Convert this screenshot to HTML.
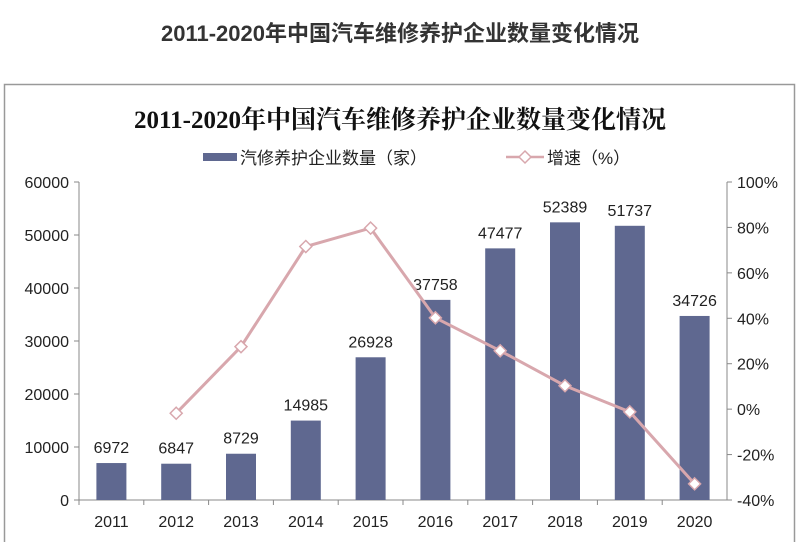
<!DOCTYPE html>
<html><head><meta charset="utf-8"><style>
body{margin:0;background:#fff;width:800px;height:542px;overflow:hidden;font-family:"Liberation Sans","Noto Sans CJK SC",sans-serif}
</style></head><body>
<svg width="800" height="542">
<text x="400" y="41" text-anchor="middle" font-size="22" font-weight="bold" fill="#333" font-family="Liberation Sans,Noto Sans CJK SC,sans-serif">2011-2020年中国汽车维修养护企业数量变化情况</text>
<rect x="4.5" y="84.5" width="790" height="470" fill="none" stroke="#999" stroke-width="1.5"/>
<text x="400" y="128" text-anchor="middle" font-size="25" font-weight="bold" fill="#111" font-family="Liberation Serif,Noto Serif CJK SC,serif">2011-2020年中国汽车维修养护企业数量变化情况</text>
<g>
<rect x="203" y="153" width="34" height="8" fill="#5f6890"/>
<text x="240" y="164" font-size="17" fill="#222">汽修养护企业数量（家）</text>
<line x1="506" y1="157" x2="544" y2="157" stroke="#d8a7ad" stroke-width="2.5"/>
<path d="M525 151 L531 157 L525 163 L519 157Z" fill="#fff" stroke="#d8a7ad" stroke-width="1.5"/>
<text x="547" y="164" font-size="17" fill="#222">增速（%）</text>
</g>
<g id="axes"></g><g id="bars"></g><g id="line"></g>
</svg>
<script>
const years=["2011","2012","2013","2014","2015","2016","2017","2018","2019","2020"];
const counts=[6972,6847,8729,14985,26928,37758,47477,52389,51737,34726];
const growth=[null,-1.8,27.5,71.6,79.7,40.2,25.7,10.3,-1.2,-32.9];
const leftTicks=[0,10000,20000,30000,40000,50000,60000];
const rightTicks=[-40,-20,0,20,40,60,80,100];
const X0=79,X1=727,Y0=500,Y1=182;
const NS="http://www.w3.org/2000/svg";
const bw=(X1-X0)/years.length;
const xc=i=>X0+bw*(i+0.5);
const yL=v=>Y0-(v/60000)*(Y0-Y1);
const yR=v=>Y0-((v+40)/140)*(Y0-Y1);
function mk(t,a,p){const e=document.createElementNS(NS,t);for(const k in a)e.setAttribute(k,a[k]);p.appendChild(e);return e;}
const ax=document.getElementById('axes'),bg=document.getElementById('bars'),lg=document.getElementById('line');
let e=mk('line',{x1:X0,y1:Y1,x2:X0,y2:Y0,stroke:'#888'},ax);


e=mk('line',{x1:X1,y1:Y1,x2:X1,y2:Y0,stroke:'#888'},ax);


e=mk('line',{x1:X0,y1:Y0,x2:X1,y2:Y0,stroke:'#888'},ax);


leftTicks.forEach(v=>{const y=yL(v);mk('line',{x1:X0-5,y1:y,x2:X0,y2:y,stroke:'#888'},ax);
const t=mk('text',{x:X0-10,y:y+6,'text-anchor':'end','font-size':16,fill:'#222'},ax);t.textContent=v;

});
rightTicks.forEach(v=>{const y=yR(v);mk('line',{x1:X1,y1:y,x2:X1+5,y2:y,stroke:'#888'},ax);
const t=mk('text',{x:X1+10,y:y+6,'font-size':16,fill:'#222'},ax);t.textContent=v+'%';

});
years.forEach((yr,i)=>{mk('line',{x1:X0+bw*i,y1:Y0,x2:X0+bw*i,y2:Y0+5,stroke:'#888'},ax);
const t=mk('text',{x:xc(i),y:527,'text-anchor':'middle','font-size':16,fill:'#222'},ax);t.textContent=yr;


const r=mk('rect',{x:xc(i)-15,y:yL(counts[i]),width:30,height:Y0-yL(counts[i]),fill:'#5f6890'},bg);


const l=mk('text',{x:xc(i),y:yL(counts[i])-10,'text-anchor':'middle','font-size':16,fill:'#222'},bg);l.textContent=counts[i];

});
const pts=[];growth.forEach((g,i)=>{if(g!==null)pts.push([xc(i),yR(g)]);});
const pl=mk('polyline',{points:pts.map(p=>p.join(',')).join(' '),fill:'none',stroke:'#d8a7ad','stroke-width':3},lg);


pts.forEach(p=>{const m=mk('path',{d:`M${p[0]} ${p[1]-6}L${p[0]+6} ${p[1]}L${p[0]} ${p[1]+6}L${p[0]-6} ${p[1]}Z`,fill:'#fff',stroke:'#d8a7ad','stroke-width':1.5},lg);

});
</script>
</body></html>
